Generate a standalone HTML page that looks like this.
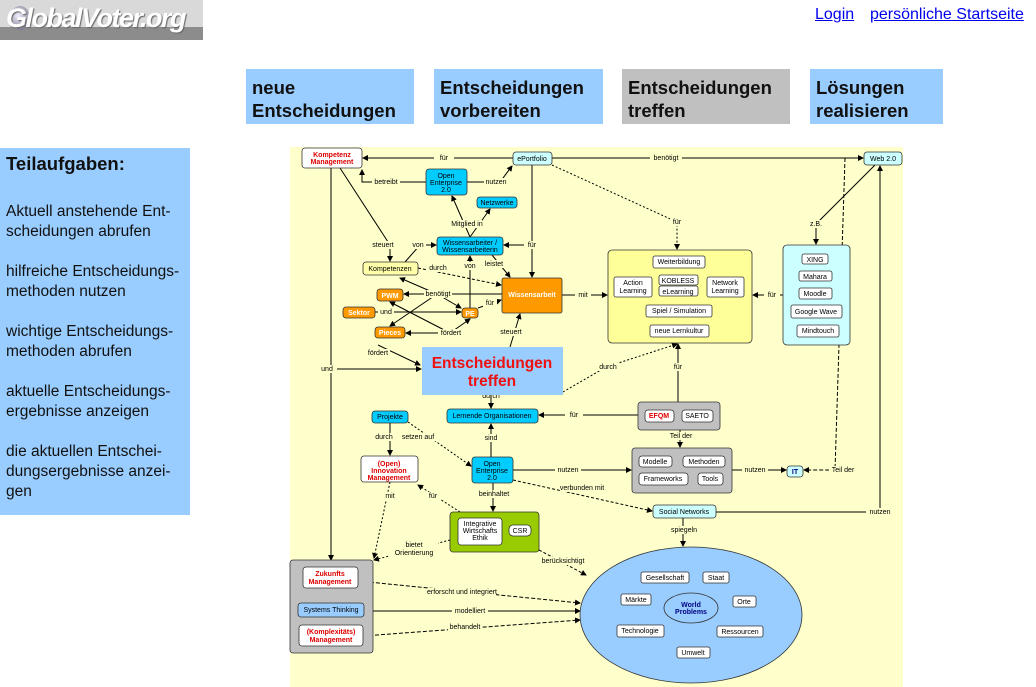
<!DOCTYPE html>
<html><head><meta charset="utf-8"><style>
*{margin:0;padding:0}
body{width:1036px;height:687px;background:#fff;font-family:"Liberation Sans",sans-serif;position:relative;overflow:hidden}
.logo{position:absolute;left:0;top:0;width:203px;height:40px;background:linear-gradient(#d9d9d9 0,#d9d9d9 68%,#8c8c8c 68%)}
.logo i{position:absolute;left:10px;top:6px;width:20px;height:24px;border-radius:50%;background:radial-gradient(circle at 40% 40%,#eef 0,#99a 60%,#557 100%)}
.logo span{position:absolute;left:6px;top:3px;font:italic bold 27px "Liberation Sans",sans-serif;color:#fff;letter-spacing:-1.5px;text-shadow:1px 1px 1px #666}
.links{position:absolute;top:6px;font-size:16px;color:#0000ee;text-decoration:underline}
.tab{position:absolute;top:69px;height:55px;background:#99ccff;font-weight:bold;font-size:18.5px;line-height:23px;padding:7px 0 0 6px;box-sizing:border-box;color:#111}
.side{position:absolute;left:0;top:148px;width:190px;height:367px;background:#99ccff;padding:6px 0 0 6px;box-sizing:border-box;font-size:15.5px;line-height:20px;color:#111}
.side h3{font-size:18.5px;margin-bottom:28px}
.side p{margin-bottom:20px}
svg{position:absolute;left:0;top:0}
svg text{font-family:"Liberation Sans",sans-serif;font-size:7px;text-anchor:middle}
</style></head><body>
<div class="logo"><i></i><span>GlobalVoter.org</span></div>
<div class="links" style="left:815px">Login</div>
<div class="links" style="left:870px">persönliche Startseite</div>
<div class="tab" style="left:246px;width:168px">neue<br>Entscheidungen</div>
<div class="tab" style="left:434px;width:169px">Entscheidungen<br>vorbereiten</div>
<div class="tab" style="left:622px;width:168px;background:#c0c0c0">Entscheidungen<br>treffen</div>
<div class="tab" style="left:810px;width:133px">Lösungen<br>realisieren</div>
<div class="side"><h3>Teilaufgaben:</h3>
<p>Aktuell anstehende Ent-<br>scheidungen abrufen</p>
<p>hilfreiche Entscheidungs-<br>methoden nutzen</p>
<p>wichtige Entscheidungs-<br>methoden abrufen</p>
<p>aktuelle Entscheidungs-<br>ergebnisse anzeigen</p>
<p>die aktuellen Entschei-<br>dungsergebnisse anzei-<br>gen</p></div>
<svg width="1036" height="687" viewBox="0 0 1036 687">
<defs><marker id="a" markerWidth="6" markerHeight="6" refX="5" refY="3" orient="auto"><path d="M0,0L6,3L0,6z" fill="#000"/></marker></defs>
<rect x="290" y="147" width="613" height="540" fill="#ffffcc"/>
<g stroke="#000" stroke-width="1" fill="none" marker-end="url(#a)">
<path d="M513,158H363"/><path d="M552,158H863"/>
<path d="M426,182H362L362,170"/><path d="M467,182H500L512,166"/>
<path d="M470,237L452,196"/><path d="M470,237L490,209"/>
<path d="M340,168L390,245V261"/><path d="M405,262L420,245H436"/>
<path d="M532,165V245H504"/><path d="M532,245V277"/>
<path d="M492,255L510,277"/>
<path d="M418,268L501,285" stroke-dasharray="3,2"/>
<path d="M562,295H607"/>
<path d="M502,294H404"/><path d="M437,294L400,278"/><path d="M437,294L461,308"/><path d="M437,294L390,326"/>
<path d="M478,308L501,300"/>
<path d="M375,312H461"/>
<path d="M470,308V256"/>
<path d="M450,333H406"/><path d="M450,333L470,319"/><path d="M450,333L390,302"/>
<path d="M510,347L520,314"/>
<path d="M378,345L420,365"/>
<path d="M331,168V560"/><path d="M331,369H421"/>
<path d="M552,165L677,222V249" stroke-dasharray="2,2"/>
<path d="M875,165L816,224V244"/>
<path d="M783,295H753"/>
<path d="M563,392L606,367L677,344" stroke-dasharray="2,2"/>
<path d="M678,402V344"/>
<path d="M491,395V408"/>
<path d="M638,415H539"/>
<path d="M680,430V447"/>
<path d="M390,423V455"/><path d="M408,422L471,466" stroke-dasharray="2,2"/>
<path d="M491,457V424"/>
<path d="M513,470H631"/>
<path d="M513,480L652,511" stroke-dasharray="3,2"/>
<path d="M732,470H786"/><path d="M845,158L835,470H804" stroke-dasharray="4,2"/>
<path d="M716,512H880V166"/>
<path d="M683,518V546"/>
<path d="M493,483V511"/>
<path d="M460,512L418,485" stroke-dasharray="2,2"/>
<path d="M390,482L374,558" stroke-dasharray="2,2"/>
<path d="M450,540L374,560" stroke-dasharray="2,2"/>
<path d="M539,550L586,575" stroke-dasharray="3,2"/>
<path d="M358,581L580,603" stroke-dasharray="4,2"/>
<path d="M364,611H580"/>
<path d="M363,636L580,620" stroke-dasharray="4,2"/>
</g>
<g font-size="6.5" fill="#000">
<g fill="#ffffcc" stroke="none">
<rect x="434" y="154" width="20" height="8"/><rect x="650" y="154" width="32" height="8"/><rect x="372" y="178" width="28" height="8"/><rect x="484" y="178" width="24" height="8"/><rect x="452" y="220" width="30" height="8"/><rect x="372" y="241" width="22" height="8"/><rect x="410" y="241" width="16" height="8"/><rect x="524" y="241" width="16" height="8"/><rect x="484" y="260" width="20" height="8"/><rect x="426" y="264" width="24" height="8"/><rect x="575" y="291" width="16" height="8"/><rect x="424" y="290" width="28" height="8"/><rect x="483" y="299" width="14" height="8"/><rect x="378" y="308" width="16" height="8"/><rect x="462" y="262" width="16" height="8"/><rect x="438" y="329" width="26" height="8"/><rect x="498" y="328" width="26" height="8"/><rect x="366" y="349" width="24" height="8"/><rect x="317" y="365" width="20" height="8"/><rect x="670" y="218" width="14" height="8"/><rect x="808" y="220" width="16" height="8"/><rect x="764" y="291" width="16" height="8"/><rect x="596" y="363" width="24" height="8"/><rect x="671" y="363" width="14" height="8"/><rect x="565" y="411" width="18" height="8"/><rect x="667" y="432" width="28" height="8"/><rect x="372" y="433" width="24" height="8"/><rect x="400" y="433" width="36" height="8"/><rect x="482" y="434" width="18" height="8"/><rect x="555" y="466" width="26" height="8"/><rect x="560" y="484" width="44" height="8"/><rect x="742" y="466" width="26" height="8"/><rect x="829" y="466" width="28" height="8"/><rect x="866" y="508" width="28" height="8"/><rect x="670" y="526" width="28" height="8"/><rect x="476" y="490" width="36" height="8"/><rect x="425" y="492" width="16" height="8"/><rect x="382" y="492" width="16" height="8"/><rect x="390" y="540" width="48" height="18"/><rect x="540" y="557" width="46" height="8"/><rect x="428" y="588" width="68" height="8"/><rect x="452" y="607" width="36" height="8"/><rect x="448" y="623" width="34" height="8"/>
</g>
<text x="444" y="160">für</text><text x="666" y="160">benötigt</text><text x="386" y="184">betreibt</text><text x="496" y="184">nutzen</text><text x="467" y="226">Mitglied in</text><text x="383" y="247">steuert</text><text x="418" y="247">von</text><text x="532" y="247">für</text><text x="494" y="266">leistet</text><text x="438" y="270">durch</text><text x="583" y="297">mit</text><text x="438" y="296">benötigt</text><text x="490" y="305">für</text><text x="386" y="314">und</text><text x="470" y="268">von</text><text x="451" y="335">fördert</text><text x="511" y="334">steuert</text><text x="378" y="355">fördert</text><text x="327" y="371">und</text><text x="677" y="224">für</text><text x="816" y="226">z.B.</text><text x="772" y="297">für</text><text x="608" y="369">durch</text><text x="678" y="369">für</text><text x="574" y="417">für</text><text x="681" y="438">Teil der</text><text x="384" y="439">durch</text><text x="418" y="439">setzen auf</text><text x="491" y="440">sind</text><text x="568" y="472">nutzen</text><text x="582" y="490">verbunden mit</text><text x="755" y="472">nutzen</text><text x="843" y="472">Teil der</text><text x="880" y="514">nutzen</text><text x="684" y="532">spiegeln</text><text x="494" y="496">beinhaltet</text><text x="433" y="498">für</text><text x="390" y="498">mit</text><text x="414" y="547">bietet</text><text x="414" y="555">Orientierung</text><text x="563" y="563">berücksichtigt</text><text x="462" y="594">erforscht und integriert</text><text x="470" y="613">modelliert</text><text x="465" y="629">behandelt</text><text x="491" y="398">durch</text>
</g>
<g stroke="#333" stroke-width="0.8">
<rect x="608" y="250" width="144" height="93" rx="4" fill="#ffff99"/>
<rect x="783" y="245" width="67" height="100" rx="4" fill="#ccffff"/>
<rect x="638" y="402" width="82" height="28" rx="3" fill="#c0c0c0"/>
<rect x="632" y="448" width="100" height="45" rx="3" fill="#c0c0c0"/>
<rect x="450" y="512" width="89" height="40" rx="3" fill="#99cc00"/>
<rect x="290" y="560" width="83" height="93" rx="3" fill="#c0c0c0"/>
<ellipse cx="691" cy="615" rx="111" ry="68" fill="#99ccff"/>
<g fill="#fff">
<rect x="302" y="148" width="60" height="20" rx="3"/>
<rect x="513" y="152" width="39" height="13" rx="3" fill="#ccffff"/>
<rect x="864" y="152" width="38" height="13" rx="3" fill="#ccffff"/>
<rect x="426" y="169" width="41" height="26" rx="3" fill="#00ccff"/>
<rect x="477" y="197" width="40" height="11" rx="3" fill="#00ccff"/>
<rect x="437" y="237" width="66" height="18" rx="3" fill="#00ccff"/>
<rect x="363" y="262" width="55" height="13" rx="3" fill="#ffffaa"/>
<rect x="502" y="278" width="60" height="35" rx="2" fill="#ff9900"/>
<rect x="377" y="289" width="26" height="12" rx="3" fill="#ff9900"/>
<rect x="343" y="307" width="32" height="11" rx="3" fill="#ff9900"/>
<rect x="462" y="308" width="16" height="10" rx="3" fill="#ff9900"/>
<rect x="375" y="327" width="30" height="11" rx="3" fill="#ff9900"/>
<rect x="653" y="256" width="52" height="12" rx="2"/><rect x="614" y="277" width="38" height="20" rx="2"/><rect x="659" y="275" width="39" height="10" rx="2"/><rect x="659" y="286" width="39" height="10" rx="2"/><rect x="707" y="277" width="37" height="20" rx="2"/><rect x="646" y="305" width="66" height="12" rx="2"/><rect x="650" y="325" width="59" height="12" rx="2"/>
<rect x="802" y="254" width="26" height="10" rx="2"/><rect x="799" y="271" width="33" height="10" rx="2"/><rect x="799" y="288" width="33" height="11" rx="2"/><rect x="791" y="305" width="51" height="13" rx="2"/><rect x="797" y="325" width="42" height="12" rx="2"/>
<rect x="447" y="409" width="91" height="14" rx="3" fill="#00ccff"/>
<rect x="372" y="411" width="36" height="12" rx="3" fill="#00ccff"/>
<rect x="361" y="456" width="57" height="26" rx="3"/>
<rect x="472" y="457" width="41" height="26" rx="3" fill="#00ccff"/>
<rect x="458" y="518" width="44" height="27" rx="3"/><rect x="509" y="525" width="22" height="11" rx="4"/>
<rect x="303" y="567" width="55" height="21" rx="3"/><rect x="298" y="603" width="66" height="14" rx="3" fill="#99ccff"/><rect x="299" y="625" width="64" height="21" rx="3"/>
<rect x="645" y="410" width="29" height="12" rx="3"/><rect x="682" y="410" width="31" height="12" rx="3"/>
<rect x="639" y="456" width="33" height="11" rx="3"/><rect x="683" y="456" width="42" height="11" rx="3"/><rect x="639" y="473" width="49" height="12" rx="3"/><rect x="698" y="473" width="25" height="12" rx="3"/>
<rect x="787" y="466" width="16" height="11" rx="3" fill="#ccffff"/>
<rect x="653" y="505" width="63" height="13" rx="3" fill="#ccffff"/>
<rect x="641" y="572" width="48" height="11" rx="2"/><rect x="703" y="572" width="26" height="11" rx="2"/><rect x="621" y="594" width="30" height="11" rx="2"/><rect x="733" y="596" width="23" height="11" rx="2"/><rect x="617" y="625" width="47" height="12" rx="2"/><rect x="717" y="626" width="46" height="11" rx="2"/><rect x="677" y="647" width="33" height="11" rx="2"/>
</g>
<ellipse cx="691" cy="608" rx="27" ry="15" fill="#99ccff"/>
</g>
<rect x="422" y="347" width="141" height="48" fill="#99ccff"/>
<text x="492" y="368" style="font-size:15.5px;font-weight:bold" fill="#ee1111">Entscheidungen</text>
<text x="492" y="386" style="font-size:15.5px;font-weight:bold" fill="#ee1111">treffen</text>
<g font-size="6" fill="#000">
<g fill="#dd0000" font-weight="bold"><text x="332" y="157">Kompetenz</text><text x="332" y="164">Management</text><text x="389" y="466">(Open)</text><text x="389" y="473">Innovation</text><text x="389" y="480">Management</text><text x="330" y="576">Zukunfts</text><text x="330" y="584">Management</text><text x="331" y="634">(Komplexitäts)</text><text x="331" y="642">Management</text><text x="659" y="418">EFQM</text></g>
<text x="532" y="161">ePortfolio</text><text x="883" y="161">Web 2.0</text>
<text x="446" y="178">Open</text><text x="446" y="185">Enterprise</text><text x="446" y="192">2.0</text>
<text x="497" y="205">Netzwerke</text><text x="470" y="245">Wissensarbeiter /</text><text x="470" y="252">Wissensarbeiterin</text>
<text x="390" y="271">Kompetenzen</text>
<g fill="#fff" font-weight="bold"><text x="532" y="297">Wissensarbeit</text><text x="390" y="298">PWM</text><text x="359" y="315">Sektor</text><text x="470" y="316">PE</text><text x="390" y="335">Pieces</text></g>
<text x="679" y="264">Weiterbildung</text><text x="633" y="285">Action</text><text x="633" y="293">Learning</text><text x="678" y="283">KOBLESS</text><text x="678" y="294">eLearning</text><text x="725" y="285">Network</text><text x="725" y="293">Learning</text><text x="679" y="313">Spiel / Simulation</text><text x="679" y="333">neue Lernkultur</text>
<text x="815" y="262">XING</text><text x="815" y="279">Mahara</text><text x="815" y="296">Moodle</text><text x="816" y="314">Google Wave</text><text x="818" y="333">Mindtouch</text>
<text x="492" y="418">Lernende Organisationen</text><text x="390" y="419">Projekte</text>
<text x="492" y="466">Open</text><text x="492" y="473">Enterprise</text><text x="492" y="480">2.0</text>
<text x="480" y="526">Integrative</text><text x="480" y="533">Wirtschafts</text><text x="480" y="540">Ethik</text><text x="520" y="533">CSR</text>
<text x="331" y="612">Systems Thinking</text><text x="697" y="418">SAETO</text>
<text x="655" y="464">Modelle</text><text x="704" y="464">Methoden</text><text x="663" y="481">Frameworks</text><text x="710" y="481">Tools</text>
<text x="795" y="474" font-weight="bold" fill="#000080">IT</text><text x="684" y="514">Social Networks</text>
<text x="665" y="580">Gesellschaft</text><text x="716" y="580">Staat</text><text x="636" y="602">Märkte</text><text x="744" y="604">Orte</text><text x="640" y="633">Technologie</text><text x="740" y="634">Ressourcen</text><text x="693" y="655">Umwelt</text>
<g fill="#000080" font-weight="bold"><text x="691" y="607">World</text><text x="691" y="614">Problems</text></g>
</g>
</svg>
</body></html>
